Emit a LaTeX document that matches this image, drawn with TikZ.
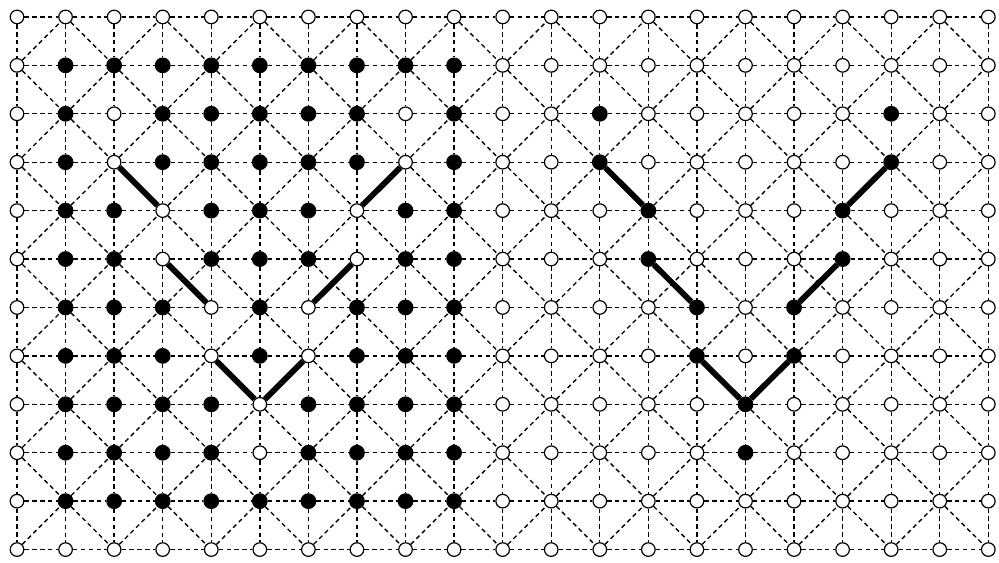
\documentclass[tikz,border=0pt]{standalone}
\usetikzlibrary{arrows.meta}
\begin{document}
\begin{tikzpicture}[
    x=1cm, y=-0.997cm,
    emp/.style={draw, circle, fill=white, inner sep=0pt, minimum size=0.28cm, line width=0.7pt},
    occ/.style={draw, circle, fill=black, inner sep=0pt, minimum size=0.3cm, line width=0.7pt},
    rej/.style={dash pattern=on 2.6pt off 2pt, line width=0.8pt},
    camino/.style={line width=3.4pt}
]
% Marco
\useasboundingbox (-0.35,-0.35) rectangle (20.22,11.26);

% Nodos
\foreach \fila [count=\j from 0] in {
    {0,0,0,0,0,0,0,0,0,0,0,0,0,0,0,0,0,0,0,0,0},
    {0,1,1,1,1,1,1,1,1,1,0,0,0,0,0,0,0,0,0,0,0},
    {0,1,0,1,1,1,1,1,0,1,0,0,1,0,0,0,0,0,1,0,0},
    {0,1,0,1,1,1,1,1,0,1,0,0,1,0,0,0,0,0,1,0,0},
    {0,1,1,0,1,1,1,0,1,1,0,0,0,1,0,0,0,1,0,0,0},
    {0,1,1,0,1,1,1,0,1,1,0,0,0,1,0,0,0,1,0,0,0},
    {0,1,1,1,0,1,0,1,1,1,0,0,0,0,1,0,1,0,0,0,0},
    {0,1,1,1,0,1,0,1,1,1,0,0,0,0,1,0,1,0,0,0,0},
    {0,1,1,1,1,0,1,1,1,1,0,0,0,0,0,1,0,0,0,0,0},
    {0,1,1,1,1,0,1,1,1,1,0,0,0,0,0,1,0,0,0,0,0},
    {0,1,1,1,1,1,1,1,1,1,0,0,0,0,0,0,0,0,0,0,0},
    {0,0,0,0,0,0,0,0,0,0,0,0,0,0,0,0,0,0,0,0,0}} {
  \foreach \s [count=\i from 0] in \fila {
    \ifnum\s=1
      \node[occ] (n-\i-\j) at (\i,\j) {};
    \else
      \node[emp] (n-\i-\j) at (\i,\j) {};
    \fi
  }
}

% Rejilla
\foreach \j in {0,...,11} {
  \foreach \i in {0,...,19} {
    \pgfmathtruncatemacro{\ii}{\i+1}
    \draw[rej] (n-\i-\j) -- (n-\ii-\j);
  }
}
\foreach \i in {0,...,20} {
  \foreach \j in {0,...,10} {
    \pgfmathtruncatemacro{\jj}{\j+1}
    \draw[rej] (n-\i-\j) -- (n-\i-\jj);
  }
}

% Diagonales (u = sube, d = baja)
\foreach \fila [count=\j from 0] in {
    {u,d,u,d,u,d,u,d,u,d,u,d,u,d,u,d,u,d,u,d},
    {d,u,d,u,d,u,d,u,d,u,d,u,d,u,d,u,d,u,d,u},
    {u,d,u,d,u,d,u,d,u,d,u,d,u,d,u,d,u,d,u,d},
    {d,u,d,u,d,u,d,u,d,u,d,u,d,u,d,u,d,u,d,u},
    {u,d,u,d,u,d,u,d,u,d,u,d,u,d,u,d,u,d,u,d},
    {d,u,d,u,d,u,d,u,d,u,d,u,d,u,d,u,d,u,d,u},
    {u,d,u,d,u,d,u,d,u,d,u,d,u,d,u,d,u,d,u,d},
    {d,u,d,u,d,u,d,u,d,u,d,u,d,u,d,u,d,u,d,u},
    {u,d,u,d,u,d,u,d,u,d,u,d,u,d,u,d,u,d,u,d},
    {d,u,d,u,d,u,d,u,d,u,d,u,d,u,d,u,d,u,d,u},
    {u,d,u,d,u,d,u,d,u,d,u,d,u,d,u,d,u,d,u,d}} {
  \foreach \tipo [count=\i from 0] in \fila {
    \pgfmathtruncatemacro{\ii}{\i+1}
    \pgfmathtruncatemacro{\jj}{\j+1}
    \if u\tipo \draw[rej] (n-\i-\jj) -- (n-\ii-\j); \fi
    \if d\tipo \draw[rej] (n-\i-\j) -- (n-\ii-\jj); \fi
  }
}

% Caminos
\draw[camino] (n-2-3) -- (n-3-4);
\draw[camino] (n-3-5) -- (n-4-6);
\draw[camino] (n-4-7) -- (n-5-8) -- (n-6-7);
\draw[camino] (n-6-6) -- (n-7-5);
\draw[camino] (n-7-4) -- (n-8-3);

\draw[camino] (n-12-3) -- (n-13-4);
\draw[camino] (n-13-5) -- (n-14-6);
\draw[camino] (n-14-7) -- (n-15-8) -- (n-16-7);
\draw[camino] (n-16-6) -- (n-17-5);
\draw[camino] (n-17-4) -- (n-18-3);

\end{tikzpicture}
\end{document}
